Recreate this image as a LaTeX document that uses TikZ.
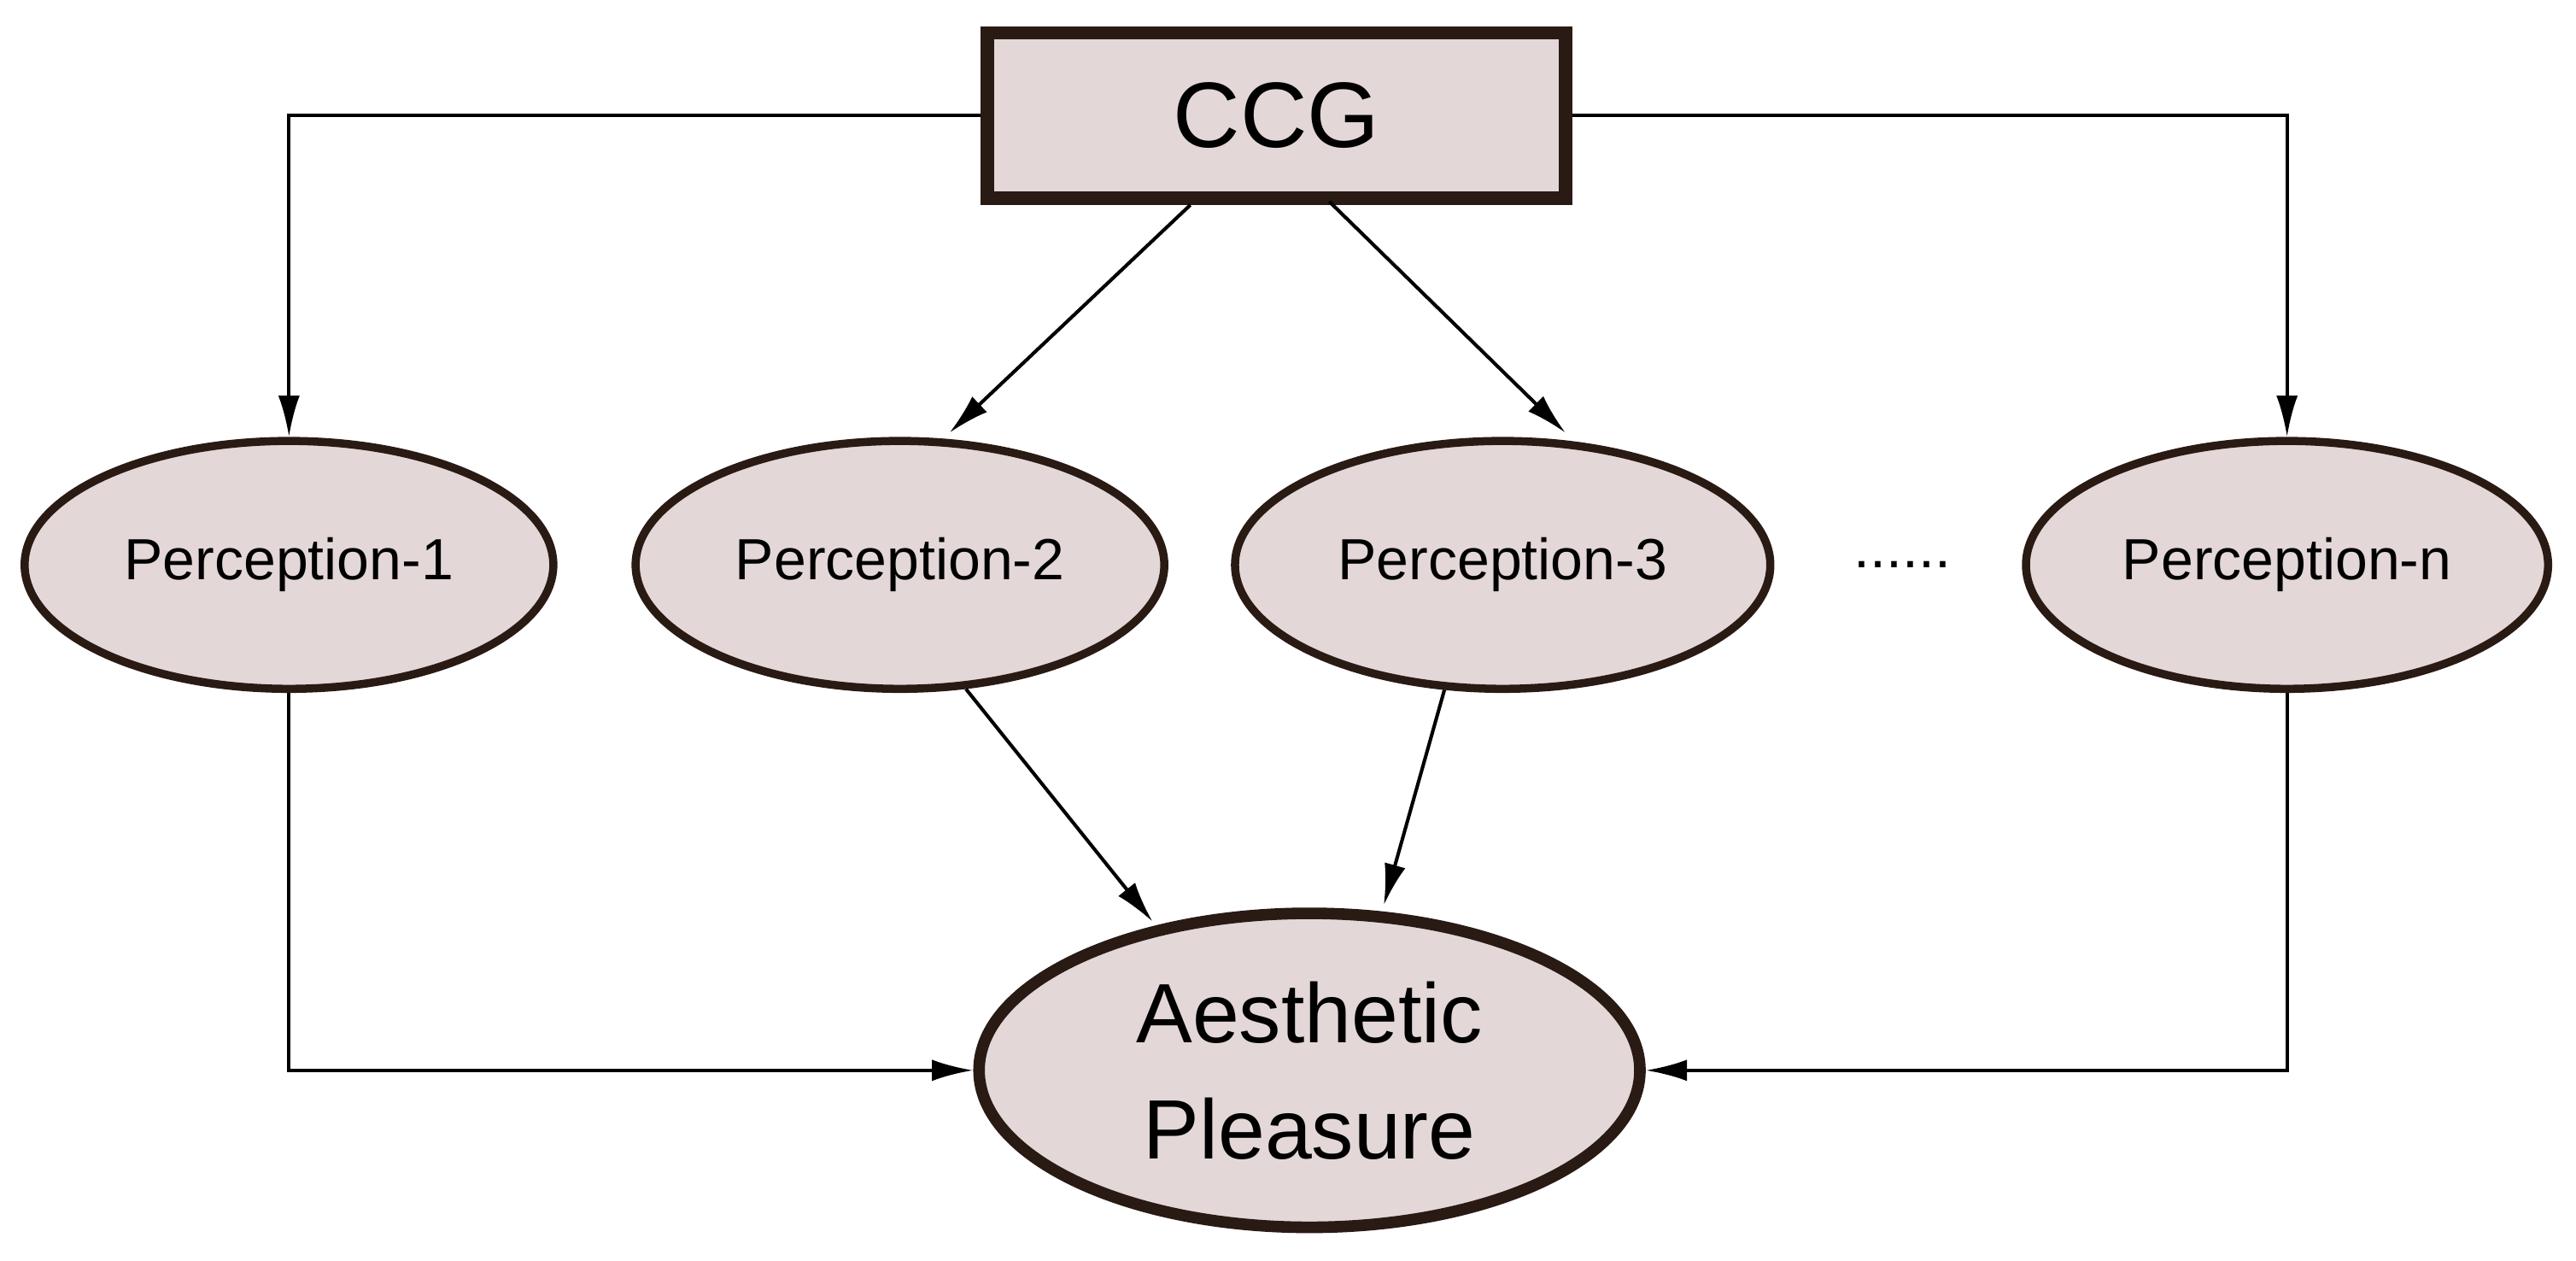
\documentclass[tikz,border=0pt]{standalone}
\usepackage{fontspec}
\setmainfont{Liberation Sans}
\usetikzlibrary{arrows.meta,shapes.geometric}
\definecolor{fillc}{HTML}{E3D7D7}
\definecolor{edgec}{HTML}{2A1A14}
\begin{document}
\begin{tikzpicture}[x=0.01cm,y=-0.01cm,
  perc/.style={ellipse,draw=edgec,fill=fillc,line width=1.4pt,minimum width=3.2cm,minimum height=1.5cm,inner sep=0pt,font=\fontsize{10}{12}\selectfont},
  arr/.style={-{Latex[length=0.25cm,width=0.13cm]},line width=0.6pt}]
\useasboundingbox (0,0) rectangle (1560,763);
\node[draw=edgec,fill=fillc,line width=2.3pt,minimum width=3.5cm,minimum height=1.0cm,font=\fontsize{16}{19}\selectfont] (ccg) at (773,70) {CCG};
\node[perc] (p1) at (175,342) {Perception-1};
\node[perc] (p2) at (545,342) {Perception-2};
\node[perc,minimum width=3.24cm] (p3) at (910,342) {Perception-3};
\node[perc,minimum width=3.16cm] (pn) at (1385,342) {Perception-n};
\node[font=\fontsize{10}{12}\selectfont] (dots) at (1152,342) {......};
\node[ellipse,draw=edgec,fill=fillc,line width=2pt,minimum width=4.0cm,minimum height=1.9cm,inner sep=0pt,align=center,font=\fontsize{14.5}{20}\selectfont] (ap) at (793,648) {Aesthetic\\Pleasure};
\draw[arr] (ccg.west) -| (p1.north);
\draw[arr] (ccg.east) -| (pn.north);
\draw[arr] (ccg.south west)++(127,0) coordinate (c1) -- (575,262);
\coordinate (c1) at (722,122);
\coordinate (c2) at (805,122);
\draw[arr] (c2) -- (948,262);
\draw[arr] (p2.-62) -- (698,558);
\draw[arr] (p3.-115) -- (838,548);
\draw[arr] (p1.south) |- (ap.west);
\draw[arr] (pn.south) |- (ap.east);
\end{tikzpicture}
\end{document}
